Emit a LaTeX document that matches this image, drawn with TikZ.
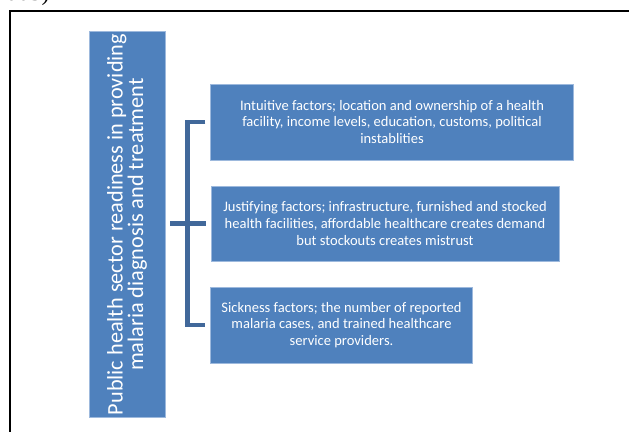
\documentclass[tikz,border=0pt]{standalone}
\usepackage{fontspec}
\setmainfont{Carlito}
\newfontfamily\serifpart{Liberation Serif}
\usetikzlibrary{calc}
\definecolor{boxblue}{HTML}{4F81BD}
\definecolor{boxedge}{HTML}{9DB9DD}
\definecolor{brackblue}{HTML}{41689A}
\tikzset{
  factorbox/.style={fill=boxblue, draw=boxedge, line width=0.6pt, text=white,
    align=center, inner sep=0pt, font=\fontsize{10.9pt}{12.6pt}\selectfont},
  mainbox/.style={fill=boxblue, draw=boxedge, line width=0.6pt, text=white,
    align=center, inner sep=0pt, rotate=90, font=\fontsize{16.7pt}{15.4pt}\selectfont},
  bracketline/.style={draw=brackblue, line width=3.4pt},
  frameline/.style={draw=black, line width=1.9pt}
}
\begin{document}
\begin{tikzpicture}[x=0.75pt,y=-0.75pt]
\useasboundingbox (0,0) rectangle (629,432);
\begin{scope}
\clip (0,0) rectangle (629,432);
\node[anchor=base east, inner sep=0pt, font=\serifpart\fontsize{18pt}{18pt}\selectfont] (cut) at (50,0.5) {005)};
\end{scope}
% outer frame
\coordinate (fa) at (10,432);
\coordinate (fb) at (10,11);
\coordinate (fc) at (629,11);
\draw[frameline] (fa) -- (fb) -- (fc);
% main box
\node[mainbox, minimum width=290pt, minimum height=57pt] (m) at (127,224.5)
  {Public health sector readiness in providing\\malaria diagnosis and treatment};
% factor boxes
\node[factorbox, minimum width=272pt, minimum height=57pt] (b1) at (392,122)
  {Intuitive factors; location and ownership of a health\\facility, income levels, education, customs, political\\instablities};
\node[factorbox, minimum width=261pt, minimum height=56.25pt] (b2) at (385,223.5)
  {Justifying factors; infrastructure, furnished and stocked\\health facilities, affordable healthcare creates demand\\but stockouts creates mistrust};
\node[factorbox, minimum width=196pt, minimum height=57pt] (b3) at (341.5,325)
  {Sickness factors; the number of reported\\malaria cases, and trained healthcare\\service providers.};
% bracket
\coordinate (t1) at ($(b1.west)+(-5,0)$);
\coordinate (t3) at ($(b3.west)+(-5,0)$);
\coordinate (t2) at ($(b2.west)+(-5,0)$);
\coordinate (mr) at ($(m.south)+(5,0)$);
\draw[bracketline] (t1) -| ($(b3.west)+(-23,0)$) -- (t3);
\draw[bracketline] (mr |- t2) -- (t2);
\end{tikzpicture}
\end{document}
